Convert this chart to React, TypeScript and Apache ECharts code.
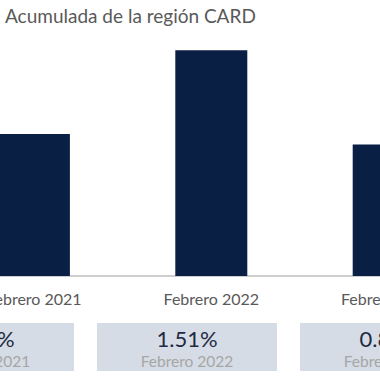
import React, { useEffect, useRef } from "react";
import * as echarts from "echarts";

const title = "Acumulada de la región CARD";
const categories = ["Febrero 2021", "Febrero 2022", "Febrero 2023"];
const values = [0.95, 1.51, 0.88];
const valueLabels = ["0.95%", "1.51%", "0.88%"];

// container is shifted left so that the chart is cropped like the reference
const OFFSET_X = 110;

export default function App() {
  const ref = useRef<HTMLDivElement>(null);
  useEffect(() => {
    if (!ref.current) return;
    const chart = echarts.init(ref.current, undefined, { renderer: "svg" });
    const font = "Lato, 'Noto Sans', sans-serif";
    const boxW = 180;
    const boxSpacing = 203;
    const box2Center = 187 + OFFSET_X;
    const graphics: any[] = [];
    categories.forEach((cat, i) => {
      const cx = box2Center + (i - 1) * boxSpacing;
      graphics.push({
        type: "rect",
        shape: { x: cx - boxW / 2, y: 323, width: boxW, height: 48 },
        style: { fill: "#d6dce5" },
        silent: true,
      });
      graphics.push({
        type: "text",
        x: cx,
        y: 338,
        style: {
          text: valueLabels[i],
          fill: "#1f2a44",
          font: `22px ${font}`,
          align: "center",
          verticalAlign: "middle",
        },
      });
      graphics.push({
        type: "text",
        x: cx,
        y: 361,
        style: {
          text: cat,
          fill: "#a6a6a6",
          font: `15.5px ${font}`,
          align: "center",
          verticalAlign: "middle",
        },
      });
    });
    graphics.push({
      type: "text",
      x: 5 + OFFSET_X,
      y: 15,
      style: {
        text: title,
        fill: "#595959",
        font: `19px ${font}`,
        align: "left",
        verticalAlign: "middle",
      },
    });
    chart.setOption({
      animation: false,
      grid: { left: 55.2, width: 532.2, top: 36.8, height: 239.2 },
      xAxis: {
        type: "category",
        data: categories,
        axisLine: { lineStyle: { color: "#bfbfbf", width: 1.5 } },
        axisTick: { show: false },
        axisLabel: { color: "#595959", fontSize: 16, fontFamily: font, margin: 14 },
      },
      yAxis: {
        type: "value",
        min: 0,
        max: 1.6,
        show: false,
        splitLine: { show: false },
      },
      series: [
        {
          type: "bar",
          data: values,
          barWidth: 72,
          itemStyle: { color: "#0a1f44" },
          label: { show: false },
        },
      ],
      graphic: graphics,
    });
    return () => chart.dispose();
  }, []);
  return (
    <div
      ref={ref}
      style={{ position: "absolute", left: -OFFSET_X, top: 0, width: 600, height: 380 }}
    />
  );
}
